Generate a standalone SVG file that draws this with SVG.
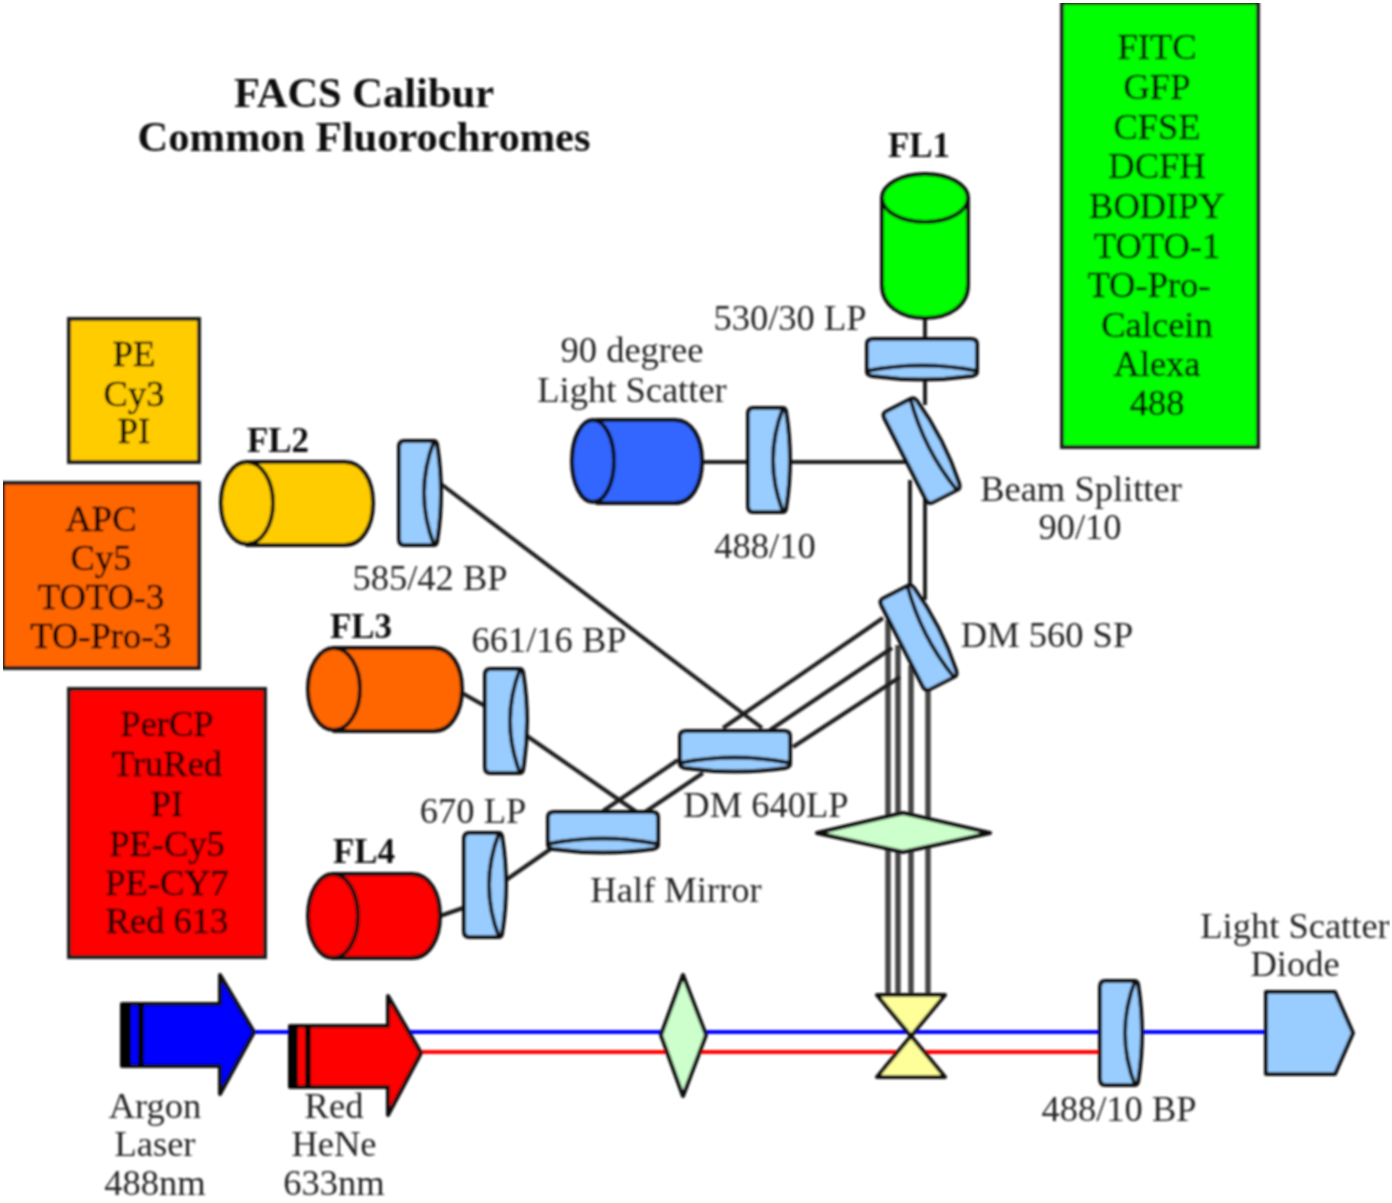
<svg xmlns="http://www.w3.org/2000/svg" width="1392" height="1203" viewBox="0 0 1392 1203">
<style>
text{font-family:"Liberation Serif","Times New Roman",serif;font-size:36.5px;fill:#262626;text-anchor:middle;transform:translateY(1px)}
text.b{font-weight:bold;fill:#111;font-size:35px}
text.t{font-weight:bold;font-size:42.5px;fill:#111}
.bx text{fill:#000;stroke:#000;stroke-width:.5}
.k{stroke:#111;stroke-width:4;stroke-linejoin:round;fill:none}
.box{stroke:#1a1a1a;stroke-width:4}
.conn line{stroke:#1c1c1c;stroke-width:4}
.conn line.g{stroke:#444;stroke-width:5.5}
.lb{fill:#99ccff}
</style>
<defs>
<g id="lens">
<path class="k lb" d="M-55,-15 Q-55,-20 -49,-20 H49 Q55,-20 55,-15 V13 Q55,16 50,17 Q0,24 -50,17 Q-55,16 -55,13 Z"/>
<path class="k" d="M-55,12 Q0,1 55,12"/>
</g>
<g id="lensv">
<path class="k lb" d="M-52,-15 Q-52,-20 -46,-20 H46 Q52,-20 52,-15 V15 Q52,17 49,18 Q0,26 -49,18 Q-52,17 -52,15 Z"/>
<path class="k" d="M-52,15 Q0,-5 52,15"/>
</g>
<filter id="soft" x="0" y="0" width="100%" height="100%"><feGaussianBlur stdDeviation="0.8"/></filter>
</defs>
<rect width="1392" height="1203" fill="#fff"/>
<g filter="url(#soft)">
<g id="connectors" class="conn">
<line x1="925" y1="318" x2="925" y2="340"/>
<line x1="925" y1="380" x2="925" y2="405"/>
<line x1="702" y1="462" x2="746" y2="462"/>
<line x1="790" y1="462" x2="905" y2="462"/>
<line x1="910" y1="480" x2="910" y2="600"/>
<line x1="925" y1="495" x2="925" y2="600"/>
<line class="g" x1="888" y1="620" x2="888" y2="995"/>
<line class="g" x1="898" y1="645" x2="898" y2="995"/>
<line class="g" x1="911" y1="665" x2="911" y2="995"/>
<line class="g" x1="928" y1="680" x2="928" y2="995"/>
<line x1="441" y1="484" x2="762" y2="728"/>
<line x1="883" y1="618" x2="723" y2="728"/>
<line x1="678" y1="760" x2="603" y2="811"/>
<line x1="892" y1="648" x2="770" y2="730"/>
<line x1="703" y1="773" x2="645" y2="812"/>
<line x1="900" y1="677" x2="793" y2="747"/>
<line x1="527" y1="736" x2="638" y2="813"/>
<line x1="462" y1="693" x2="485" y2="706"/>
<line x1="440" y1="916" x2="463" y2="908"/>
<line x1="506" y1="880" x2="552" y2="848"/>
<line x1="255" y1="1032" x2="1098" y2="1032" style="stroke:#0000ff"/>
<line x1="1142" y1="1032" x2="1266" y2="1032" style="stroke:#0000ff"/>
<line x1="420" y1="1052" x2="1098" y2="1052" style="stroke:#ff0000"/>
</g>
<g id="box-green" class="bx"><rect class="box" x="1062" y="3" width="196" height="444" fill="#00ff00"/>
<text x="1157" y="58">FITC</text><text x="1157" y="98">GFP</text><text x="1157" y="138">CFSE</text><text x="1157" y="177">DCFH</text><text x="1157" y="217">BODIPY</text><text x="1157" y="257">TOTO-1</text><text x="1149" y="296">TO-Pro-</text><text x="1157" y="336">Calcein</text><text x="1157" y="375">Alexa</text><text x="1157" y="414">488</text></g>
<g id="box-yellow" class="bx"><rect class="box" x="69" y="319" width="130" height="143" fill="#ffcc00"/>
<text x="134" y="365">PE</text><text x="134" y="405">Cy3</text><text x="134" y="442">PI</text></g>
<g id="box-orange" class="bx"><rect class="box" x="3" y="483" width="196" height="185" fill="#ff6600"/>
<text x="101" y="530">APC</text><text x="101" y="569">Cy5</text><text x="101" y="608">TOTO-3</text><text x="101" y="647">TO-Pro-3</text></g>
<g id="box-red" class="bx"><rect class="box" x="69" y="689" width="196" height="268" fill="#ff0000"/>
<text x="167" y="735">PerCP</text><text x="167" y="775">TruRed</text><text x="167" y="815">PI</text><text x="167" y="855">PE-Cy5</text><text x="167" y="894">PE-CY7</text><text x="167" y="932">Red 613</text></g>
<g id="title"><text class="t" x="364" y="106">FACS Calibur</text><text class="t" x="364" y="150">Common Fluorochromes</text></g>
<g id="fl1"><path class="k" style="fill:#00ff00" d="M882,198 V285 C882,305 900,318 925,318 C950,318 968,305 968,285 V198 Z"/><ellipse class="k" style="fill:#00ff00" cx="925" cy="198" rx="43" ry="24"/><text class="b" x="919" y="156">FL1</text></g>
<g id="fl2"><path class="k" style="fill:#ffcc00" d="M247,462 H345 C362,462 373,480 373,503 C373,526 362,545 345,545 H247 Z"/><ellipse class="k" style="fill:#ffcc00" cx="247" cy="503" rx="26" ry="41"/><text class="b" x="278" y="451">FL2</text></g>
<g id="fl3"><path class="k" style="fill:#ff6600" d="M334,648 H434 C451,648 462,666 462,689 C462,712 451,731 434,731 H334 Z"/><ellipse class="k" style="fill:#ff6600" cx="334" cy="689" rx="26" ry="41"/><text class="b" x="361" y="637">FL3</text></g>
<g id="fl4"><path class="k" style="fill:#ff0000" d="M333,874 H412 C429,874 440,892 440,916 C440,939 429,958 412,958 H333 Z"/><ellipse class="k" style="fill:#ff0000" cx="333" cy="916" rx="25" ry="42"/><text class="b" x="364" y="862">FL4</text></g>
<g id="scatter90"><path class="k" style="fill:#3366ff" d="M597,420 H675 C692,420 702,438 702,461 C702,484 692,503 675,503 H597 Z"/><ellipse class="k" style="fill:#3366ff" cx="593" cy="461" rx="21" ry="41"/><text x="632" y="361">90 degree</text><text x="632" y="401">Light Scatter</text></g>
<g id="lens-530"><use href="#lens" transform="translate(922,359)"/><text x="790" y="329">530/30 LP</text></g>
<g id="lens-splitter"><use href="#lens" transform="translate(923,450) rotate(-117) scale(.93,1)"/><text x="1081" y="500">Beam Splitter</text><text x="1080" y="538">90/10</text></g>
<g id="lens-488"><use href="#lensv" transform="translate(768,460) rotate(-90)"/><text x="765" y="557">488/10</text></g>
<g id="lens-585"><use href="#lensv" transform="translate(419,493) rotate(-90)"/><text x="430" y="589">585/42 BP</text></g>
<g id="lens-dm560"><use href="#lens" transform="translate(920,637) rotate(-117) scale(.93,1)"/><text x="1047" y="646">DM 560 SP</text></g>
<g id="lens-661"><use href="#lensv" transform="translate(505,721) rotate(-90)"/><text x="549" y="651">661/16 BP</text></g>
<g id="lens-dm640"><use href="#lens" transform="translate(735,751)"/><text x="766" y="816">DM 640LP</text></g>
<g id="lens-half"><use href="#lens" transform="translate(603,832)"/><text x="676" y="901">Half Mirror</text></g>
<g id="lens-670"><use href="#lensv" transform="translate(484,885) rotate(-90)"/><text x="473" y="822">670 LP</text></g>
<g id="lens-488bp"><use href="#lensv" transform="translate(1120,1033) rotate(-90)"/><text x="1119" y="1120">488/10 BP</text></g>
<polygon id="diamond-h" class="k" style="fill:#ccffcc" points="817,833 903,813 990,833 903,852"/>
<polygon id="diamond-v" class="k" style="fill:#ccffcc" points="683,975 706,1035 683,1096 661,1035"/>
<polygon id="bowtie" class="k" style="fill:#ffff99" points="877,995 945,995 877,1077 945,1077"/>
<g id="argon"><polygon class="k" style="fill:#0000ff" points="122,1004 220,1004 220,975 254,1032 220,1094 220,1066 122,1066"/><rect x="121" y="1004" width="10" height="62" fill="#000"/><rect x="138" y="1004" width="6" height="62" fill="#000"/><text x="155" y="1117">Argon</text><text x="155" y="1155">Laser</text><text x="155" y="1194">488nm</text></g>
<g id="hene"><polygon class="k" style="fill:#ff0000" points="290,1026 388,1026 388,996 421,1053 388,1115 388,1087 290,1087"/><rect x="289" y="1026" width="9" height="61" fill="#000"/><rect x="305" y="1026" width="6" height="61" fill="#000"/><text x="334" y="1117">Red</text><text x="334" y="1155">HeNe</text><text x="334" y="1194">633nm</text></g>
<g id="diode"><polygon class="k lb" points="1266,992 1335,992 1353,1033 1335,1074 1266,1074"/><text x="1295" y="937">Light Scatter</text><text x="1295" y="975">Diode</text></g>
</g>
</svg>
